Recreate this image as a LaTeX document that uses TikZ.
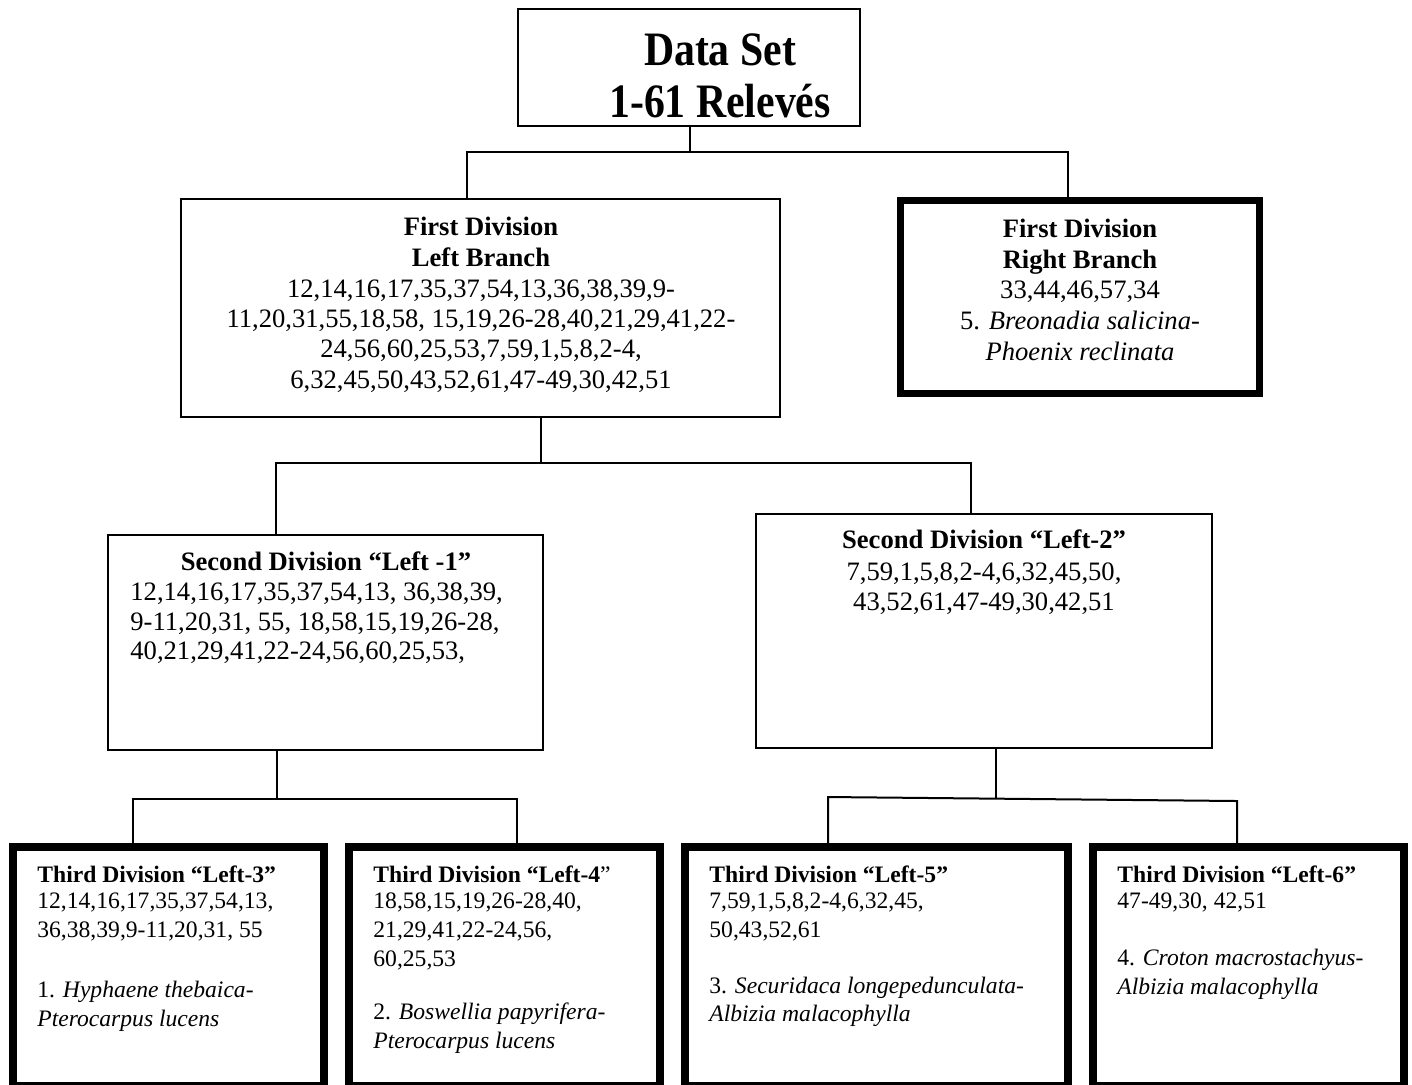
\documentclass[tikz,border=0pt]{standalone}
\usepackage{fontspec}
\setmainfont{Liberation Serif}
\newfontfamily\titlefont{Liberation Serif}[FakeStretch=0.87]
\usetikzlibrary{fit}
\begin{document}
\begin{tikzpicture}[x=0.5pt,y=-0.5pt,
  thinbox/.style={draw,line width=1.2pt,inner sep=0pt,rectangle},
  thickbox/.style={draw,line width=4pt,inner sep=0pt,rectangle},
  conn/.style={line width=1pt},
  big/.style={inner sep=0pt,anchor=base,font=\titlefont\fontsize{24}{28}\selectfont\bfseries},
  mid/.style={inner sep=0pt,anchor=base,font=\fontsize{13.3}{15}\selectfont},
  midl/.style={mid,anchor=base west},
  small/.style={inner sep=0pt,anchor=base west,font=\fontsize{11.8}{14}\selectfont},
]
\useasboundingbox[fill=white] (0,0) rectangle (1412,1084);

% boxes
\node[thinbox,fit={(518,9)(860,126)}] (top) {};
\node[thinbox,fit={(181,199)(780,417)}] (L1) {};
\node[thickbox,line width=3.5pt,fit={(900,200)(1259,393)}] (R1) {};
\node[thinbox,fit={(108,535)(543,750)}] (S1) {};
\node[thinbox,fit={(756,514)(1212,748)}] (S2) {};
\node[thickbox,fit={(13,847)(324,1086)}] (B1) {};
\node[thickbox,fit={(349,847)(660,1086)}] (B2) {};
\node[thickbox,fit={(685,847)(1068,1086)}] (B3) {};
\node[thickbox,fit={(1093,847)(1404,1086)}] (B4) {};

% connectors level 1
\coordinate (a) at (467,152);
\coordinate (b) at (1068,152);
\coordinate (m0) at (690,152);
\draw[conn] (m0 |- top.south) -- (m0);
\draw[conn] (a |- L1.north) -- (a) -- (b) -- (b |- R1.north);
% level 2
\coordinate (c) at (276,463);
\coordinate (d) at (971,463);
\coordinate (m1) at (541,463);
\draw[conn] (m1 |- L1.south) -- (m1);
\draw[conn] (c |- S1.north) -- (c) -- (d) -- (d |- S2.north);
% level 3 left
\coordinate (e) at (133,799);
\coordinate (f) at (517,799);
\coordinate (m2) at (277,799);
\draw[conn] (m2 |- S1.south) -- (m2);
\draw[conn] (e |- B1.north) -- (e) -- (f) -- (f |- B2.north);
% level 3 right
\coordinate (g) at (828,797);
\coordinate (h) at (1237,801);
\coordinate (m3) at (996,799);
\draw[conn] (m3 |- S2.south) -- (m3);
\draw[conn] (g |- B3.north) -- (g) -- (h) -- (h |- B4.north);

% top text
\node[big] (t1) at (720,65) {Data Set};
\node[big] (t2) at (720,117) {1-61 Relevés};

% first division left
\node[mid] (l1a) at (481,235) {\bfseries First Division};
\node[mid] (l1b) at (481,266) {\bfseries Left Branch};
\node[mid] (l1c) at (481,297) {12,14,16,17,35,37,54,13,36,38,39,9-};
\node[mid] (l1d) at (481,327) {11,20,31,55,18,58, 15,19,26-28,40,21,29,41,22-};
\node[mid] (l1e) at (481,357) {24,56,60,25,53,7,59,1,5,8,2-4,};
\node[mid] (l1f) at (481,388) {6,32,45,50,43,52,61,47-49,30,42,51};

% first division right
\node[mid] (r1a) at (1080,237) {\bfseries First Division};
\node[mid] (r1b) at (1080,268) {\bfseries Right Branch};
\node[mid] (r1c) at (1080,298) {33,44,46,57,34};
\node[mid] (r1d) at (1080,329) {5. \textit{Breonadia salicina-}};
\node[mid] (r1e) at (1080,360) {\textit{Phoenix reclinata}};

% second division left-1
\node[mid] (s1a) at (326,570) {\bfseries Second Division “Left -1”};
\node[midl] (s1b) at (130,600) {12,14,16,17,35,37,54,13, 36,38,39,};
\node[midl] (s1c) at (130,630) {9-11,20,31, 55, 18,58,15,19,26-28,};
\node[midl] (s1d) at (130,659) {40,21,29,41,22-24,56,60,25,53,};

% second division left-2
\node[mid] (s2a) at (984,548) {\bfseries Second Division “Left-2”};
\node[mid] (s2b) at (984,580) {7,59,1,5,8,2-4,6,32,45,50,};
\node[mid] (s2c) at (984,610) {43,52,61,47-49,30,42,51};

% third division left-3
\node[small] (b1a) at (37,882) {\bfseries Third Division “Left-3”};
\node[small] (b1b) at (37,908) {12,14,16,17,35,37,54,13,};
\node[small] (b1c) at (37,937) {36,38,39,9-11,20,31, 55};
\node[small] (b1d) at (37,997) {1. \textit{Hyphaene thebaica-}};
\node[small] (b1e) at (37,1026) {\textit{Pterocarpus lucens}};

% third division left-4
\node[small] (b2a) at (373,882) {{\bfseries Third Division “Left-4}”};
\node[small] (b2b) at (373,908) {18,58,15,19,26-28,40,};
\node[small] (b2c) at (373,937) {21,29,41,22-24,56,};
\node[small] (b2d) at (373,966) {60,25,53};
\node[small] (b2e) at (373,1019) {2. \textit{Boswellia papyrifera-}};
\node[small] (b2f) at (373,1048) {\textit{Pterocarpus lucens}};

% third division left-5
\node[small] (b3a) at (709,882) {\bfseries Third Division “Left-5”};
\node[small] (b3b) at (709,908) {7,59,1,5,8,2-4,6,32,45,};
\node[small] (b3c) at (709,937) {50,43,52,61};
\node[small] (b3d) at (709,993) {3. \textit{Securidaca longepedunculata-}};
\node[small] (b3e) at (709,1021) {\textit{Albizia malacophylla}};

% third division left-6
\node[small] (b4a) at (1117,882) {\bfseries Third Division “Left-6”};
\node[small] (b4b) at (1117,908) {47-49,30, 42,51};
\node[small] (b4c) at (1117,965) {4. \textit{Croton macrostachyus-}};
\node[small] (b4d) at (1117,994) {\textit{Albizia malacophylla}};
\end{tikzpicture}
\end{document}
